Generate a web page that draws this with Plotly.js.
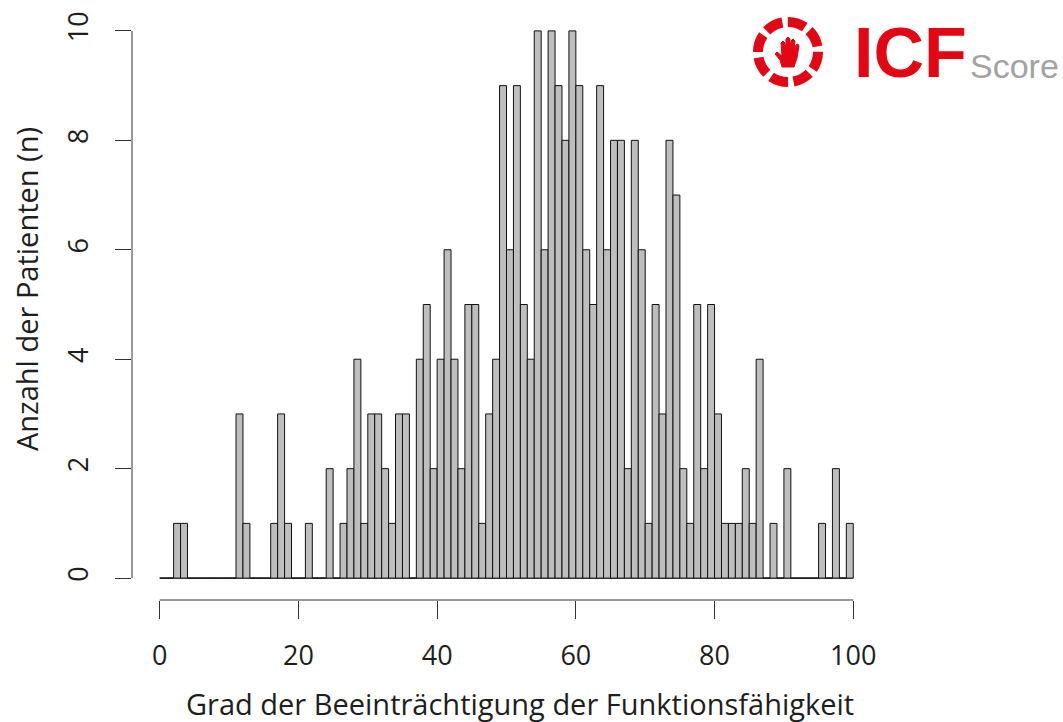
<!DOCTYPE html>
<html>
<head>
<meta charset="utf-8">
<script src="https://cdn.plot.ly/plotly-3.0.1.min.js"></script>
<style>
html,body{margin:0;padding:0;background:#fff;}
#chart{width:1063px;height:722px;}
</style>
</head>
<body>
<div id="chart"></div>
<script>
// ---- data ----
const binStart = 0;
const binWidth = 1;
const counts = [
  0,0,1,1,0,0,0,0,0,0,
  0,3,1,0,0,0,1,3,1,0,
  0,1,0,0,2,0,1,2,4,1,
  3,3,2,1,3,3,0,4,5,2,
  4,6,4,2,5,5,1,3,4,9,
  6,9,5,4,10,6,10,9,8,10,
  9,6,5,9,6,8,8,2,8,6,
  1,5,3,8,7,2,1,5,2,5,
  3,1,1,1,2,1,4,0,1,0,
  2,0,0,0,0,1,0,2,0,1
];
const xTicks = [0,20,40,60,80,100];
const yTicks = [0,2,4,6,8,10];
const xLabel = 'Grad der Beeinträchtigung der Funktionsfähigkeit';
const yLabel = 'Anzahl der Patienten (n)';
const logoMain = 'ICF';
const logoSub = 'Score';

// ---- layout geometry ----
const W = 1063, H = 722;
const M = {l:132, r:182, t:9, b:122};
const PW = W - M.l - M.r, PH = H - M.t - M.b;
const px2x = p => (p - M.l) / PW;
const py2y = p => (H - M.b - p) / PH;

const binCenters = counts.map((_, i) => binStart + (i + 0.5) * binWidth);
const binEnd = binStart + counts.length * binWidth;

const red = '#e30613';

// hand icon (pixel offsets from icon centre)
const handPts = [[-6,15],[-8,8],[-13,2],[-11,0],[-6,4],[-7,-9],[-5,-11],[-3,-9],[-2,-2],
  [-2,-13],[0,-15],[2,-13],[2,-2],[3,-11],[5,-13],[7,-11],[6,-1],[8,-7],[10,-8],[11,-6],[9,6],[6,15]];
const cx = 788, cy = 52;
const handPath = handPts.map((p, i) => (i ? 'L' : 'M') + px2x(cx + p[0]).toFixed(5) + ',' + py2y(cy + p[1]).toFixed(5)).join(' ') + ' Z';

const trace = {
  type: 'bar',
  x: binCenters,
  y: counts,
  width: binWidth,
  marker: {color: '#bebebe', line: {color: '#111', width: 1}},
  hoverinfo: 'x+y'
};

const tickFont = {family: 'Open Sans, sans-serif', size: 27, color: '#1e1e1e'};
const titleFont = {family: 'Open Sans, sans-serif', size: 29, color: '#1e1e1e'};

const layout = {
  width: W, height: H,
  margin: M,
  paper_bgcolor: '#fff', plot_bgcolor: '#fff',
  showlegend: false,
  bargap: 0,
  xaxis: {
    range: [-4, 104], tickvals: xTicks, ticktext: xTicks.map(String),
    ticks: 'outside', ticklen: 18, tickwidth: 1, tickcolor: '#333',
    showline: false, showgrid: false, zeroline: false,
    tickfont: tickFont, ticklabelstandoff: 14, fixedrange: true
  },
  yaxis: {
    range: [-0.4, 10.4], tickvals: yTicks, ticktext: yTicks.map(String),
    ticks: 'outside', ticklen: 16, tickwidth: 1, tickcolor: '#333',
    tickangle: -90,
    showline: false, showgrid: false, zeroline: false,
    tickfont: tickFont, ticklabelstandoff: 16, fixedrange: true
  },
  shapes: [
    {type: 'line', xref: 'paper', yref: 'y', x0: 0, x1: 0, y0: yTicks[0], y1: yTicks[yTicks.length-1], line: {color: '#333', width: 1}},
    {type: 'line', xref: 'x', yref: 'paper', x0: xTicks[0], x1: xTicks[xTicks.length-1], y0: 0, y1: 0, line: {color: '#333', width: 1}},
    {type: 'line', xref: 'x', yref: 'y', x0: binStart, x1: binEnd, y0: 0, y1: 0, line: {color: '#111', width: 1}, layer: 'below'},
    {type: 'circle', xref: 'paper', yref: 'paper', x0: px2x(cx - 30), x1: px2x(cx + 30), y0: py2y(cy + 30), y1: py2y(cy - 30),
      line: {color: red, width: 10, dash: '18px,5.5px'}},
    {type: 'path', xref: 'paper', yref: 'paper', path: handPath, fillcolor: red, line: {color: red, width: 1}}
  ],
  annotations: [
    {text: xLabel, xref: 'paper', yref: 'paper', x: px2x(520), y: py2y(703), xanchor: 'center', yanchor: 'middle', showarrow: false, font: titleFont},
    {text: yLabel, xref: 'paper', yref: 'paper', x: px2x(26), y: py2y(289), xanchor: 'center', yanchor: 'middle', textangle: -90, showarrow: false, font: titleFont},
    {text: '<b>' + logoMain + '</b>', xref: 'paper', yref: 'paper', x: px2x(852), y: py2y(53), xanchor: 'left', yanchor: 'middle', showarrow: false,
      font: {family: 'Liberation Sans, Arial, sans-serif', size: 70, color: red}},
    {text: logoSub, xref: 'paper', yref: 'paper', x: px2x(968), y: py2y(66), xanchor: 'left', yanchor: 'middle', showarrow: false,
      font: {family: 'Liberation Sans, Arial, sans-serif', size: 34, color: '#a3a3a3'}}
  ]
};

Plotly.newPlot('chart', [trace], layout, {displayModeBar: false, staticPlot: true});
</script>
</body>
</html>
